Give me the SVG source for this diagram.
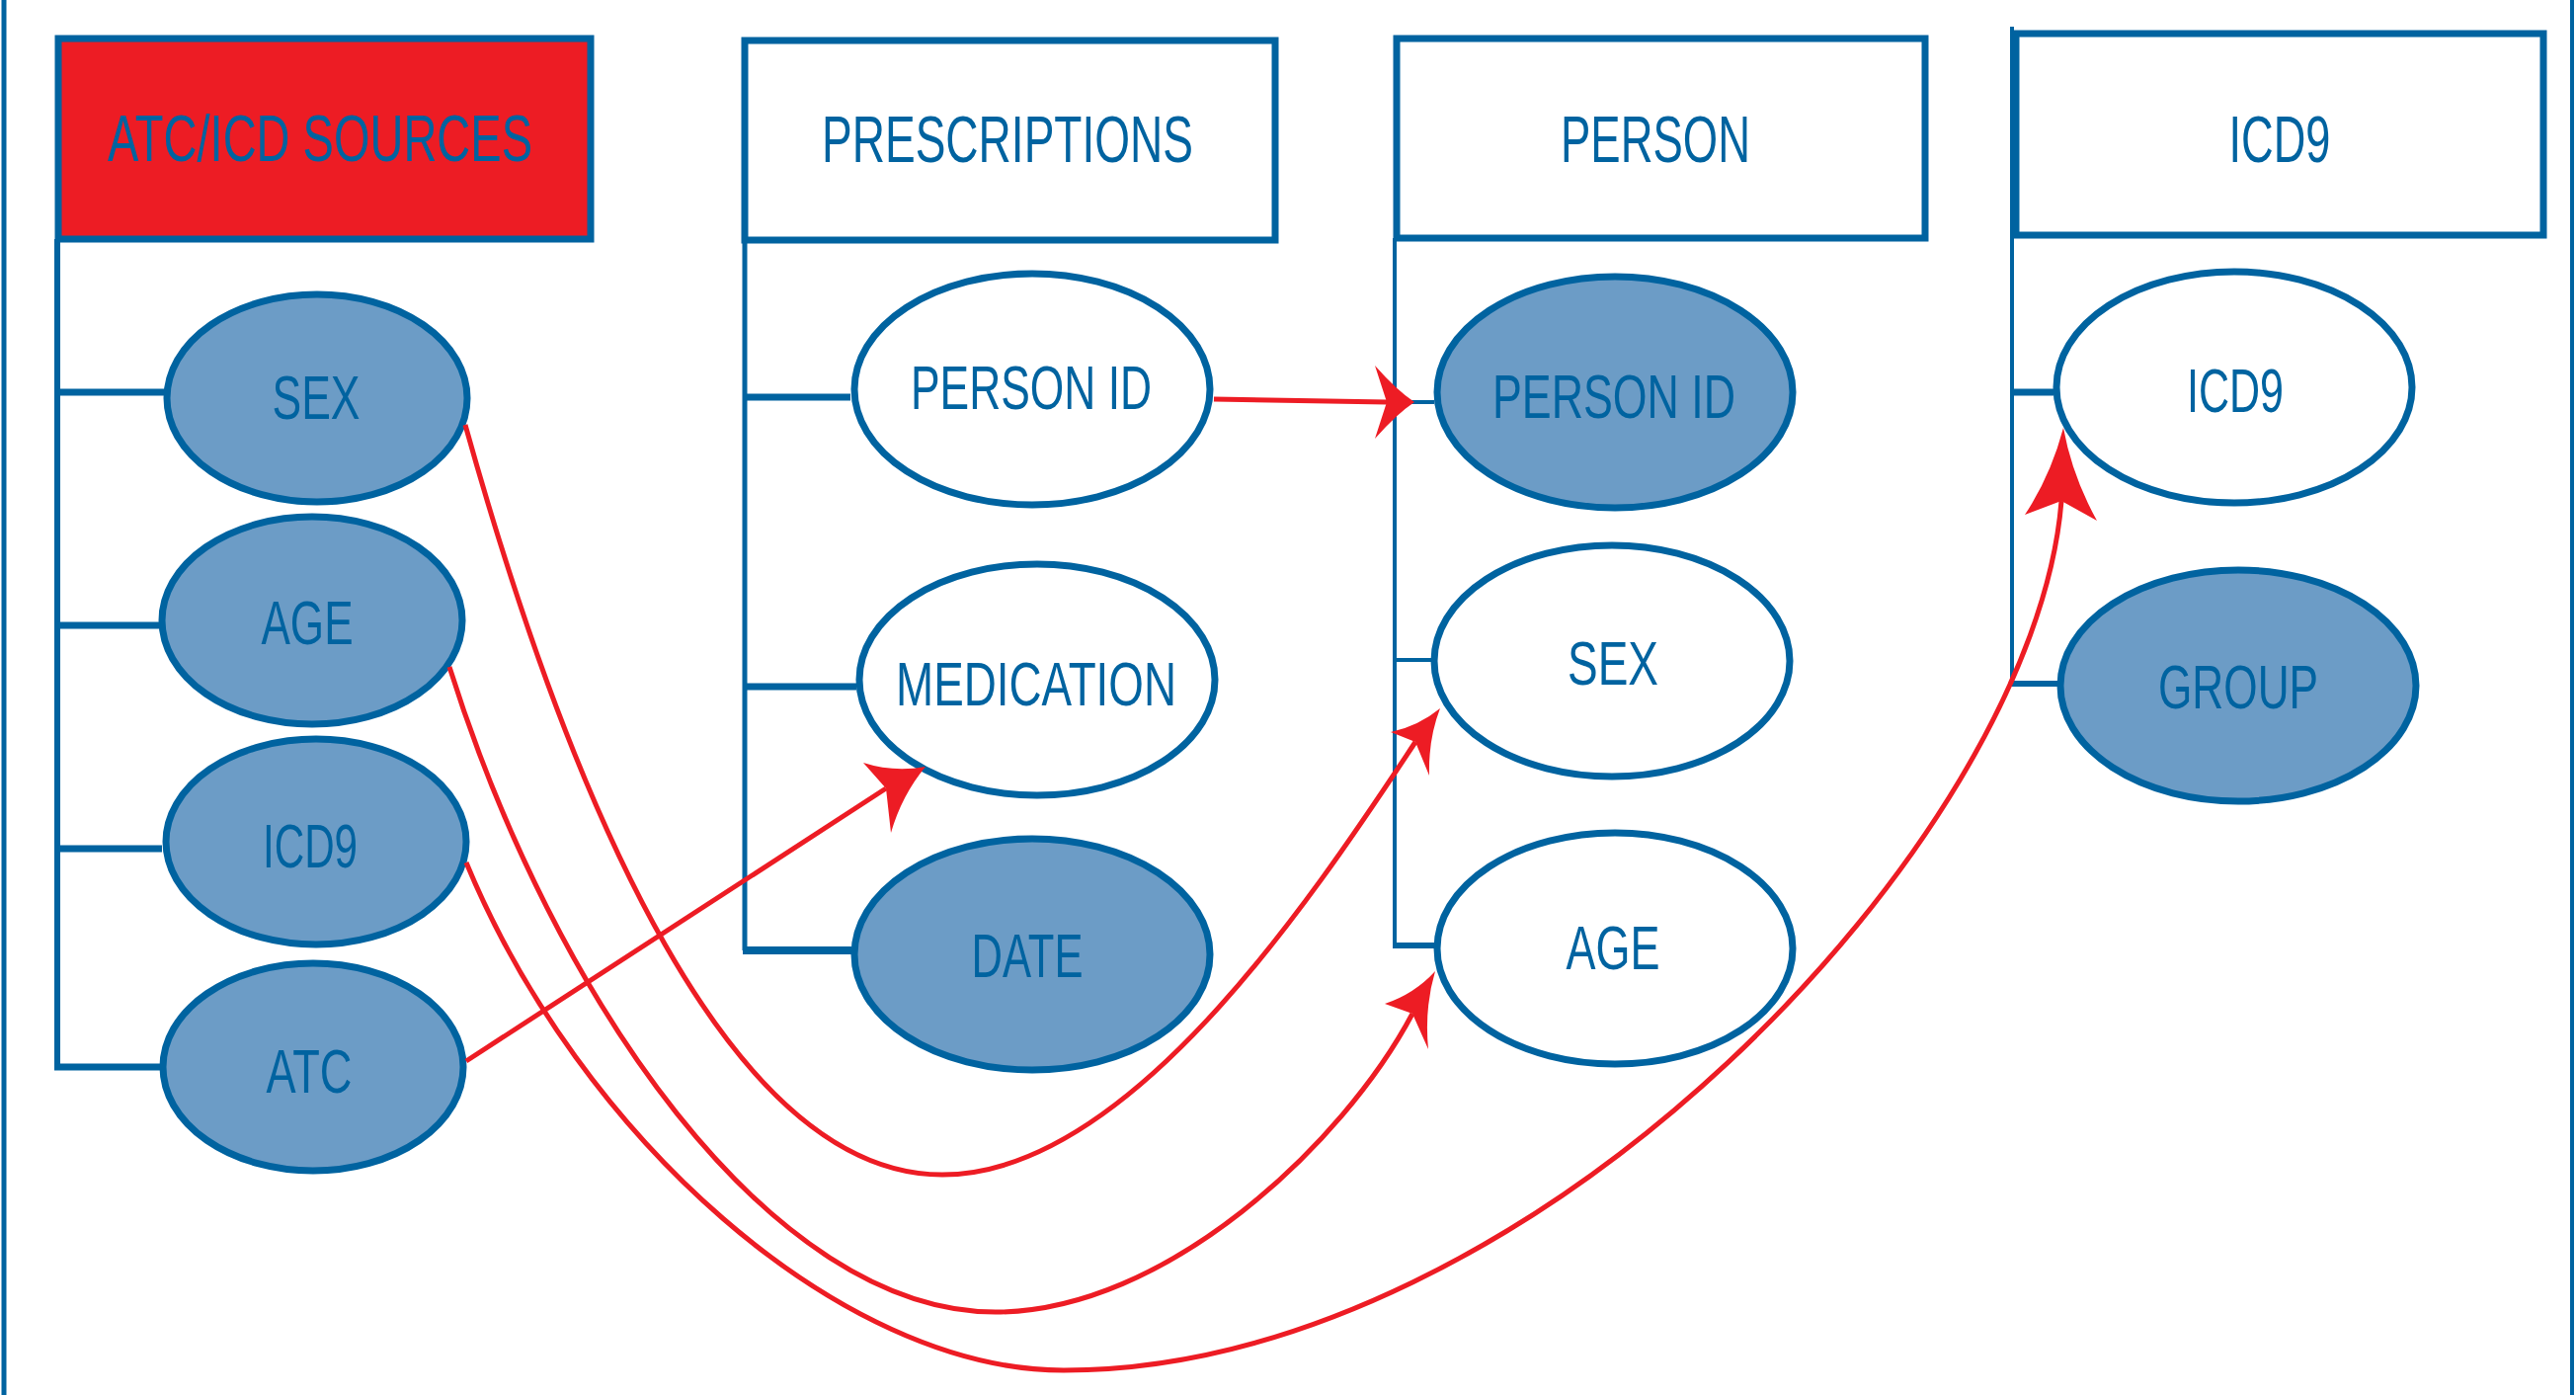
<svg xmlns="http://www.w3.org/2000/svg" width="2608" height="1412" viewBox="0 0 2608 1412">
<style>
.hdr{stroke:#0063A0;stroke-width:7;fill:#fff}
.hdr.red{fill:#ED1C24}
.el{stroke:#0063A0;stroke-width:7;fill:#fff}
.el.f{fill:#6C9CC6}
.t{font-family:"Liberation Sans",Arial,sans-serif;fill:#0063A0;text-anchor:middle}
.h{font-size:66px}
.n{font-size:63px}
.tr{stroke:#0063A0;fill:none}
.rl{stroke:#ED1C24;fill:none;stroke-width:5}
.ah{fill:#ED1C24;stroke:none}
</style>
<rect width="2608" height="1412" fill="#fff"/>
<g id="frame">
<line x1="4" y1="0" x2="4" y2="1412" stroke="#0063A0" stroke-width="5"/>
<line x1="2604" y1="0" x2="2604" y2="1412" stroke="#0063A0" stroke-width="4"/>
</g>
<g id="tree">
<path class="tr" stroke-width="6" d="M58,242 V1080"/>
<path class="tr" stroke-width="7" d="M58,397 H166 M58,633 H161 M58,859 H164 M55,1080 H162"/>
<path class="tr" stroke-width="5" d="M754,243 V962"/>
<path class="tr" stroke-width="7" d="M754,402 H861 M754,695 H867"/>
<path class="tr" stroke-width="8" d="M752,962 H862"/>
<path class="tr" stroke-width="4" d="M1412,241 V957"/>
<path class="tr" stroke-width="4" d="M1412,407 H1452 M1412,668 H1450"/>
<path class="tr" stroke-width="6" d="M1410,957 H1452"/>
<path class="tr" stroke-width="4" d="M2037,27 V692"/>
<path class="tr" stroke-width="7" d="M2037,397 H2079"/>
<path class="tr" stroke-width="6" d="M2035,692 H2083"/>
</g>
<g id="atc-icd-sources">
<rect class="hdr red" x="59" y="39" width="539" height="203"/>
<text class="t h" x="324" y="163" textLength="430" lengthAdjust="spacingAndGlyphs">ATC/ICD SOURCES</text>
</g>
<g id="src-sex"><ellipse class="el f" cx="321" cy="403" rx="152" ry="105"/><text class="t n" x="320" y="424" textLength="89" lengthAdjust="spacingAndGlyphs">SEX</text></g>
<g id="src-age"><ellipse class="el f" cx="316" cy="628" rx="152" ry="105"/><text class="t n" x="311" y="652" textLength="93" lengthAdjust="spacingAndGlyphs">AGE</text></g>
<g id="src-icd9"><ellipse class="el f" cx="320" cy="852" rx="152" ry="104"/><text class="t n" x="314" y="878" textLength="96" lengthAdjust="spacingAndGlyphs">ICD9</text></g>
<g id="src-atc"><ellipse class="el f" cx="317" cy="1080" rx="152" ry="105"/><text class="t n" x="313" y="1106" textLength="87" lengthAdjust="spacingAndGlyphs">ATC</text></g>
<g id="prescriptions">
<rect class="hdr" x="754" y="41" width="537" height="202"/>
<text class="t h" x="1020" y="164" textLength="376" lengthAdjust="spacingAndGlyphs">PRESCRIPTIONS</text>
</g>
<g id="rx-person-id"><ellipse class="el" cx="1045" cy="394" rx="180" ry="117"/><text class="t n" x="1044" y="414" textLength="244" lengthAdjust="spacingAndGlyphs">PERSON ID</text></g>
<g id="rx-medication"><ellipse class="el" cx="1050" cy="688" rx="180" ry="117"/><text class="t n" x="1049" y="714" textLength="284" lengthAdjust="spacingAndGlyphs">MEDICATION</text></g>
<g id="rx-date"><ellipse class="el f" cx="1045" cy="966" rx="180" ry="117"/><text class="t n" x="1040" y="989" textLength="113" lengthAdjust="spacingAndGlyphs">DATE</text></g>
<g id="person">
<rect class="hdr" x="1414" y="39" width="535" height="202"/>
<text class="t h" x="1676" y="164" textLength="192" lengthAdjust="spacingAndGlyphs">PERSON</text>
</g>
<g id="p-person-id"><ellipse class="el f" cx="1635" cy="397" rx="180" ry="117"/><text class="t n" x="1634" y="423" textLength="246" lengthAdjust="spacingAndGlyphs">PERSON ID</text></g>
<g id="p-sex"><ellipse class="el" cx="1632" cy="669" rx="180" ry="117"/><text class="t n" x="1633" y="693" textLength="92" lengthAdjust="spacingAndGlyphs">SEX</text></g>
<g id="p-age"><ellipse class="el" cx="1635" cy="960" rx="180" ry="117"/><text class="t n" x="1633" y="981" textLength="95" lengthAdjust="spacingAndGlyphs">AGE</text></g>
<g id="icd9">
<rect class="hdr" x="2041" y="34" width="534" height="204"/>
<text class="t h" x="2308" y="164" textLength="103" lengthAdjust="spacingAndGlyphs">ICD9</text>
</g>
<g id="i-icd9"><ellipse class="el" cx="2262" cy="392" rx="180" ry="117"/><text class="t n" x="2263" y="417" textLength="98" lengthAdjust="spacingAndGlyphs">ICD9</text></g>
<g id="i-group"><ellipse class="el f" cx="2266" cy="694" rx="180" ry="117"/><text class="t n" x="2266" y="717" textLength="162" lengthAdjust="spacingAndGlyphs">GROUP</text></g>
<g id="connectors">
<path class="rl" stroke-width="6" d="M1229,404 L1404,407"/>
<path class="ah" d="M1432,407 Q1414,395 1392,370 L1404,407 L1392,444 Q1414,419 1432,407 Z"/>
<path class="rl" stroke-width="7" d="M472,1074 L897,798"/>
<path class="ah" d="M937,776 Q905,782 874,772 L897,798 L902,843 Q913,805 937,776 Z"/>
<path class="rl" d="M471,430 C580,820 740,1189 954,1189 C1140,1189 1323,918 1433,751"/>
<path class="ah" d="M1458,717 Q1436,735 1408,741 L1433,751 L1447,785 Q1446,748 1458,717 Z"/>
<path class="rl" d="M455,675 C560,1010 780,1328 1008,1328 C1180,1328 1360,1158 1430,1026"/>
<path class="ah" d="M1453,983 Q1432,1006 1402,1016 L1430,1026 L1446,1062 Q1442,1020 1453,983 Z"/>
<path class="rl" d="M472,873 C586,1149 850,1387 1077,1387 C1550,1387 2060,850 2087,507"/>
<path class="ah" d="M2089,433 Q2076,482 2050,521 L2087,507 L2123,527 Q2098,482 2089,433 Z"/>
</g>
</svg>
